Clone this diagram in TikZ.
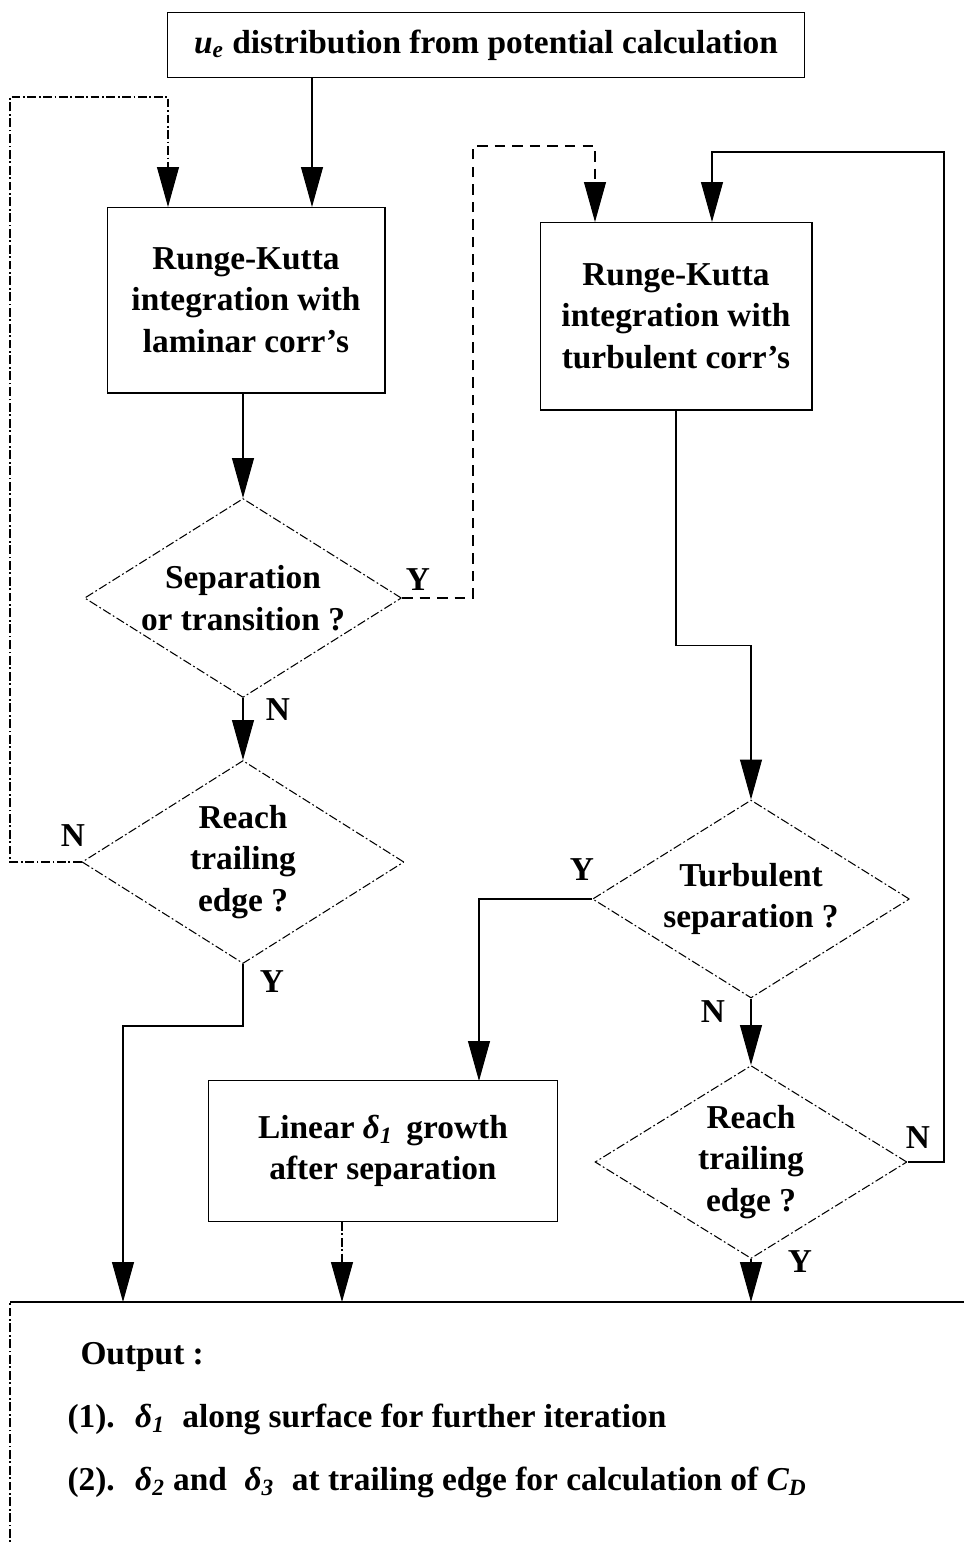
\documentclass[tikz,border=0pt]{standalone}
\usepackage{fontspec}
\setmainfont{Liberation Serif}
\usetikzlibrary{shapes.geometric,arrows.meta}
\newcommand{\idx}[2]{\textit{#1\textsubscript{#2}}}
\begin{document}
\begin{tikzpicture}[x=0.02cm,y=-0.02cm,line width=0.6pt,
	every node/.style={font=\bfseries\fontsize{19}{23.5}\selectfont},
	box/.style={draw,rectangle,align=center,inner sep=0pt},
	scan/.style={dash pattern=on 5pt off 1.5pt on 1pt off 1.5pt},
	decision/.style={draw,diamond,aspect=1.6,inner sep=0pt,align=center,scan},
	flow/.style={-{Triangle[length=0.8cm,width=0.44cm]}}]
	\useasboundingbox (0,0) rectangle (964,1543);
	% boxes
	\node[box,minimum width=12.74cm,minimum height=1.3cm] (top) at (486,45) {\idx{u}{e} distribution from potential calculation};
	\node[box,minimum width=5.56cm,minimum height=3.72cm] (lam) at (246,300) {Runge-Kutta\\integration with\\laminar corr's};
	\node[box,minimum width=5.44cm,minimum height=3.76cm] (turb) at (676,316) {Runge-Kutta\\integration with\\turbulent corr's};
	\node[box,minimum width=6.98cm,minimum height=2.82cm] (lin) at (383,1151) {Linear \idx{δ}{1}\, growth\\after separation};
	% decisions
	\node[decision,minimum width=6.34cm,minimum height=3.98cm] (sep) at (243,598) {Separation\\or transition ?};
	\node[decision,minimum width=6.44cm,minimum height=4.06cm] (te1) at (243,862) {Reach\\trailing\\edge ?};
	\node[decision,minimum width=6.34cm,minimum height=3.96cm] (tsep) at (751,899) {Turbulent\\separation ?};
	\node[decision,minimum width=6.24cm,minimum height=3.86cm] (te2) at (751,1162) {Reach\\trailing\\edge ?};
	% output
	\node[minimum width=19.8cm,minimum height=5.96cm,anchor=north west] (out) at (10,1302) {};
	\draw[scan] (out.south west) -- (out.north west);
	\draw[line width=1.2pt] (out.north west) -- (out.north east);
	\node[anchor=west,align=left,inner sep=0pt,font=\bfseries\fontsize{19}{35.8}\selectfont] (res) at (67,1420)
		{\hspace*{0.26cm}Output :\\(1).\; \idx{δ}{1}\; along surface for further iteration\\(2).\; \idx{δ}{2} and\; \idx{δ}{3}\; at trailing edge for calculation of \idx{C}{D}};
	% entry points
	\coordinate (lam1) at (168,207);
	\coordinate (lam2) at (312,207);
	\coordinate (turb1) at (595,222);
	\coordinate (turb2) at (712,222);
	\coordinate (lin1) at (479,1081);
	\coordinate (out1) at (123,1302);
	\coordinate (out2) at (342,1302);
	\coordinate (out3) at (751,1302);
	% connectors
	\draw[flow] (top.south -| lam2) -- (lam2);
	\draw[flow,scan] (te1.west) -| (10,97) -| (lam1);
	\draw[flow] (lam.south -| sep.north) -- (sep.north);
	\draw[flow,dash pattern=on 6pt off 4pt] (sep.east) -| (473,146) -| (turb1);
	\draw[flow] (sep.south) -- (te1.north);
	\draw[flow] (te1.south) -- ++(0,62) -| (out1);
	\draw[flow] (turb.south) -- ++(0,235) -| (tsep.north);
	\draw[flow] (tsep.west) -| (lin1);
	\draw[flow] (tsep.south) -- (te2.north);
	\draw[flow] (te2.east) -| (944,152) -| (turb2);
	\draw[flow] (te2.south) -- (out3);
	\draw[flow,scan] (lin.south -| out2) -- (out2);
	% labels
	\node (y1) at (418,580) {Y};
	\node (n1) at (278,710) {N};
	\node (n2) at (73,836) {N};
	\node (y2) at (272,982) {Y};
	\node (y3) at (582,870) {Y};
	\node (n3) at (713,1012) {N};
	\node (n4) at (918,1138) {N};
	\node (y4) at (800,1262) {Y};
\end{tikzpicture}
\end{document}
